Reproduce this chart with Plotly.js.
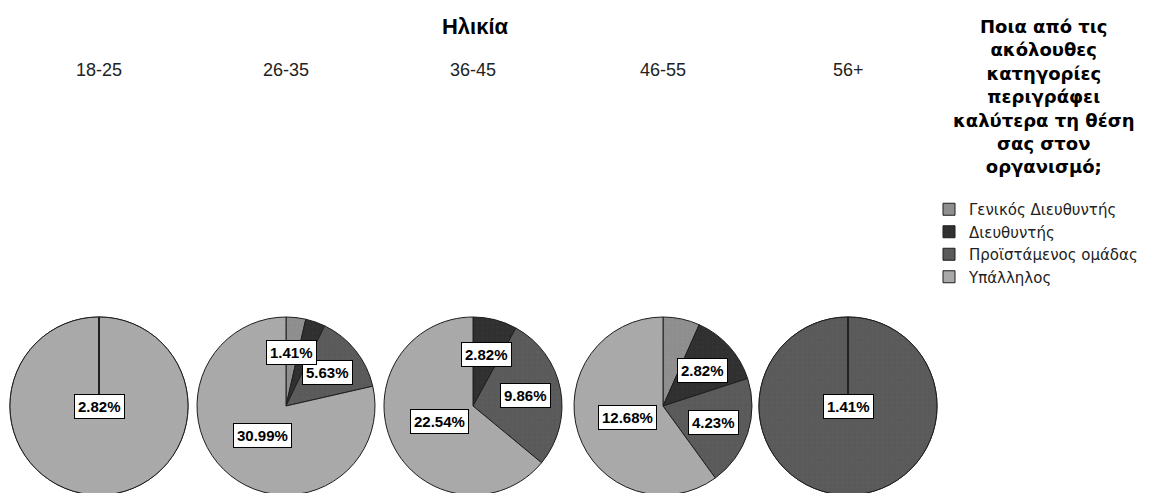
<!DOCTYPE html>
<html>
<head>
<meta charset="utf-8">
<script src="https://cdn.plot.ly/plotly-3.0.1.min.js"></script>
<style>
html,body{margin:0;padding:0;overflow:hidden;background:#fff;}
#chart{width:1151px;height:496px;}
</style>
</head>
<body>
<div id="chart"></div>
<script>
// ---- data ----
const ageGroups = ['18-25', '26-35', '36-45', '46-55', '56+'];
const positions = ['Γενικός Διευθυντής', 'Διευθυντής', 'Προϊστάμενος ομάδας', 'Υπάλληλος'];
const generalDirector = [0, 1, 0, 1, 0];
const director = [0, 1, 2, 2, 0];
const teamLeader = [0, 4, 7, 3, 1];
const employee = [2, 22, 16, 9, 0];
const totalRespondents = 71;
const chartTitle = 'Ηλικία';
const legendTitle = 'Ποια από τις<br>ακόλουθες<br>κατηγορίες<br>περιγράφει<br>καλύτερα τη θέση<br>σας στον<br>οργανισμό;';

// ---- layout constants ----
const W = 1151, H = 496;
const pieCx = [99, 286, 473, 663, 848];
const pieTop = 317, R = 89;
const pieCy = pieTop + R;
const colors = ['#8e8e8e', '#303030', '#5a5a5a', '#a9a9a9'];
const dotColors = ['#9a94a0', '#3c3840', '#66606a', '#b4a8b8'];
const FONT = 'Liberation Sans, Arial, sans-serif';
const LFONT = 'DejaVu Sans, Verdana, sans-serif';

const series = [generalDirector, director, teamLeader, employee];
const traces = [];
const annotations = [];

function pieTrace(labels, vals, cols, dots, cx, showlegend) {
  return {
    type: 'pie',
    labels: labels,
    values: vals,
    sort: false,
    direction: 'clockwise',
    rotation: 0,
    textinfo: 'none',
    hoverinfo: 'label+value+percent',
    showlegend: showlegend,
    marker: {
      colors: cols,
      line: {color: '#1e1e1e', width: 1},
      pattern: {shape: '.', fgcolor: dots, size: 5, solidity: 0.12, fillmode: 'overlay'}
    },
    domain: {x: [(cx - R) / W, (cx + R) / W], y: [(H - (pieTop + 2 * R)) / H, (H - pieTop) / H]}
  };
}

ageGroups.forEach((age, gi) => {
  const vals = series.map(s => s[gi]);
  const cx = pieCx[gi];
  traces.push(pieTrace(positions, vals, colors, dotColors, cx, true));

  // single-category pie: redraw so the starting radius is outlined
  const nz = vals.filter(v => v > 0).length;
  if (nz === 1) {
    const rl = positions.slice().reverse();
    traces.push(pieTrace(rl, vals.slice().reverse(), colors.slice().reverse(), dotColors.slice().reverse(), cx, false));
  }

  // age label above each pie
  annotations.push({
    xref: 'paper', yref: 'paper', x: cx / W, y: 1 - 70 / H,
    text: age, showarrow: false, xanchor: 'center', yanchor: 'middle',
    font: {family: FONT, size: 18, color: '#222'}
  });

  // percentage labels, computed from slice angles
  const tot = vals.reduce((a, b) => a + b, 0);
  let start = 0;
  const cands = [];
  vals.forEach((v, i) => {
    const frac = v / tot;
    const mid = (start + frac / 2) * 2 * Math.PI;
    start += frac;
    if (v <= 0) return;
    const f = frac >= 0.999 ? 0 : (frac > 0.5 ? 0.42 : 0.6);
    const px = cx + f * R * Math.sin(mid);
    const py = pieCy - f * R * Math.cos(mid);
    const txt = (v / totalRespondents * 100).toFixed(2) + '%';
    cands.push({v, i, px, py, txt, w: 12 + txt.length * 8});
  });
  // place larger slices first, skip labels that would clearly overlap
  cands.sort((a, b) => b.v - a.v || a.i - b.i);
  const placed = [];
  cands.forEach(c => {
    const clash = placed.some(p => Math.abs(p.px - c.px) < (p.w + c.w) / 2 && Math.abs(p.py - c.py) < 18);
    if (clash) return;
    placed.push(c);
    annotations.push({
      xref: 'paper', yref: 'paper', x: c.px / W, y: 1 - c.py / H,
      text: c.txt, showarrow: false, xanchor: 'center', yanchor: 'middle',
      font: {family: FONT, size: 15, color: '#000', weight: 'bold'},
      bgcolor: '#ffffff', bordercolor: '#000', borderwidth: 1, borderpad: 3
    });
  });
});

// legend title (centred lines)
annotations.push({
  xref: 'paper', yref: 'paper', x: 1044 / W, y: 1 - 14 / H, xanchor: 'center', yanchor: 'top',
  text: legendTitle, align: 'center', showarrow: false,
  font: {family: LFONT, size: 18, color: '#000', weight: 'bold'}
});

const layout = {
  width: W, height: H,
  margin: {l: 0, r: 0, t: 0, b: 0},
  paper_bgcolor: '#fff',
  title: {
    text: chartTitle, x: 475 / W, xanchor: 'center', y: 1 - 26 / H, yanchor: 'middle',
    font: {family: FONT, size: 22, color: '#000', weight: 'bold'}
  },
  showlegend: true,
  legend: {
    x: 929 / W, xanchor: 'left', y: 1 - 193 / H, yanchor: 'top',
    font: {family: LFONT, size: 15, color: '#222'},
    traceorder: 'normal', itemwidth: 30, bgcolor: 'rgba(0,0,0,0)'
  },
  annotations: annotations
};

Plotly.newPlot('chart', traces, layout, {displayModeBar: false, staticPlot: true});
</script>
</body>
</html>
